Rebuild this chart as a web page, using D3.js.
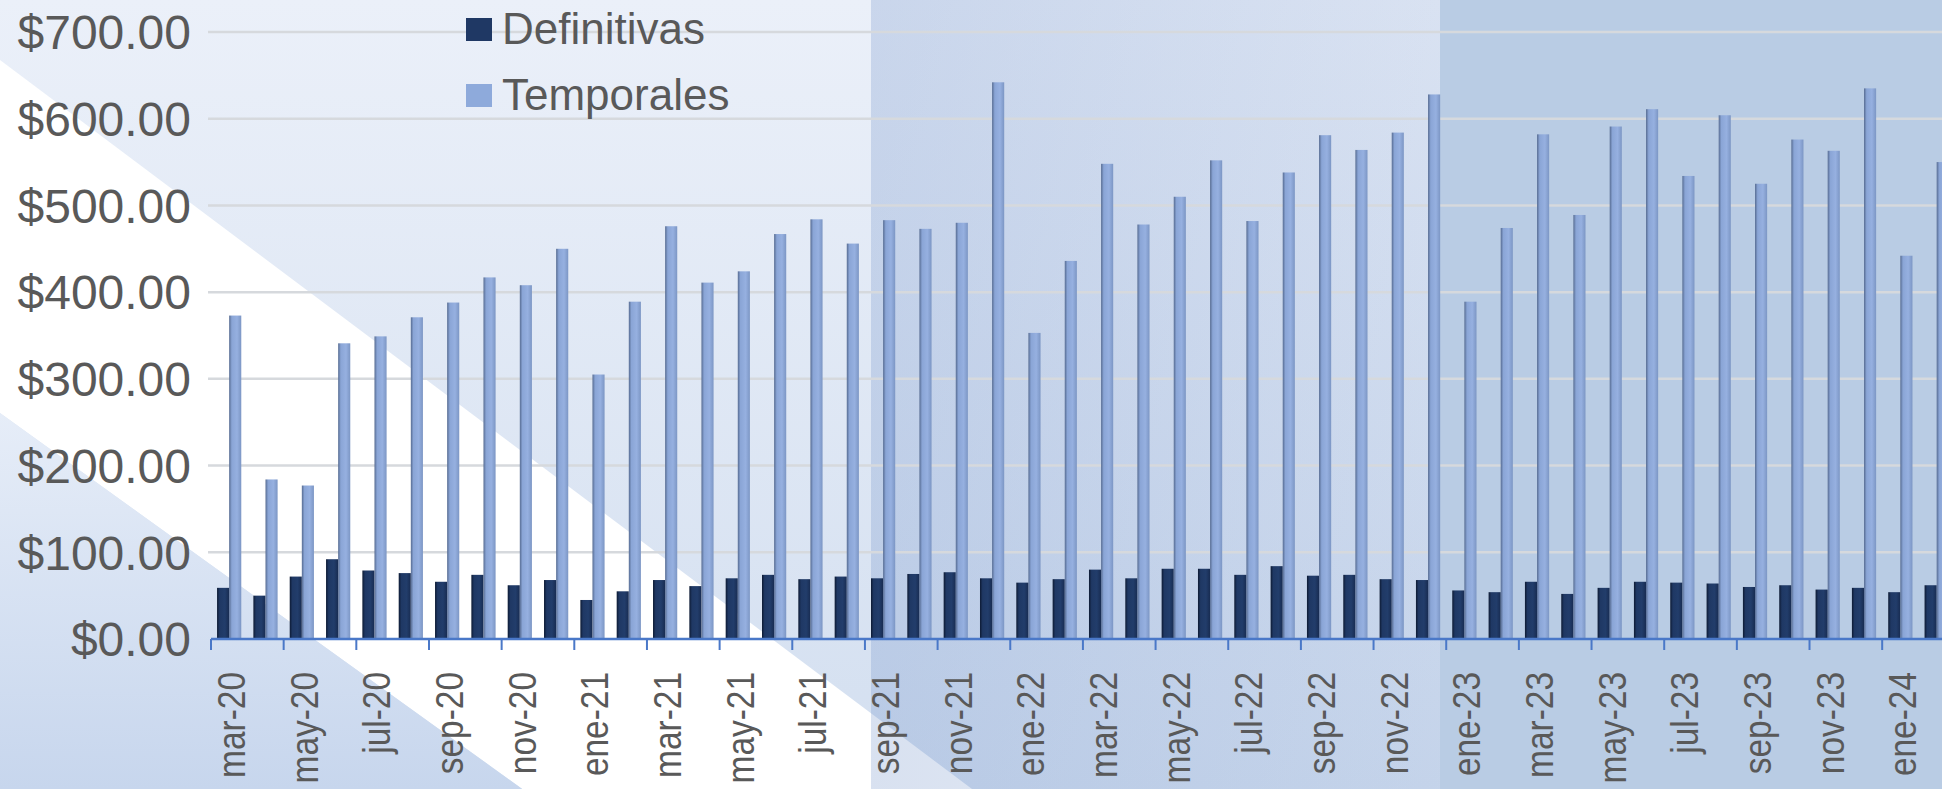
<!DOCTYPE html>
<html>
<head>
<meta charset="utf-8">
<script src="https://cdn.jsdelivr.net/npm/d3@7"></script>
<style>
  html, body { margin: 0; padding: 0; overflow: hidden; }
  svg { display: block; }
  text { font-family: "Liberation Sans", Arial, sans-serif; fill: #595959; }
</style>
</head>
<body>
<svg id="chart" width="1942" height="789"></svg>
<script>
const categories = [
  "mar-20","abr-20","may-20","jun-20","jul-20","ago-20","sep-20","oct-20","nov-20","dic-20",
  "ene-21","feb-21","mar-21","abr-21","may-21","jun-21","jul-21","ago-21","sep-21","oct-21","nov-21","dic-21",
  "ene-22","feb-22","mar-22","abr-22","may-22","jun-22","jul-22","ago-22","sep-22","oct-22","nov-22","dic-22",
  "ene-23","feb-23","mar-23","abr-23","may-23","jun-23","jul-23","ago-23","sep-23","oct-23","nov-23","dic-23",
  "ene-24","feb-24"
];
const definitivas = [
  59,50,72,92,79,76,66,74,62,68,
  45,55,68,61,70,74,69,72,70,75,77,70,
  65,69,80,70,81,81,74,84,73,74,69,68,
  56,54,66,52,59,66,65,64,60,62,57,59,
  54,62
];
const temporales = [
  373,184,177,341,349,371,388,417,408,450,
  305,389,476,411,424,467,484,456,483,473,480,642,
  353,436,548,478,510,552,482,538,581,564,584,628,
  389,474,582,489,591,611,534,604,525,576,563,635,
  442,550
];
const seriesNames = ["Definitivas","Temporales"];
const yTicks = [0,100,200,300,400,500,600,700];

const W = 1942, H = 789;
const svg = d3.select("#chart");
const defs = svg.append("defs");

function vGrad(id, stops) {
  const g = defs.append("linearGradient").attr("id", id).attr("x1",0).attr("y1",0).attr("x2",0).attr("y2",1);
  stops.forEach(s => g.append("stop").attr("offset", s[0]).attr("stop-color", s[1]).attr("stop-opacity", s[2] === undefined ? 1 : s[2]));
}
function hGrad(id, stops) {
  const g = defs.append("linearGradient").attr("id", id).attr("x1",0).attr("y1",0).attr("x2",1).attr("y2",0);
  stops.forEach(s => g.append("stop").attr("offset", s[0]).attr("stop-color", s[1]).attr("stop-opacity", s[2] === undefined ? 1 : s[2]));
}
vGrad("bgBase", [["0%","#ebf0f9"],["100%","#d3dff0"]]);
vGrad("bgLow", [["0%","#e6edf8"],["100%","#c7d6ed"]]);
hGrad("panel2", [["0%","#6a8cc6",0.26],["100%","#6a8cc6",0.14]]);
hGrad("gDef", [["0%","#0d1a33"],["22%","#1f3864"],["65%","#223d6b"],["100%","#182c52"]]);
hGrad("gTemp", [["0%","#566b91"],["22%","#8aa5d6"],["65%","#96b0e0"],["100%","#7c96c4"]]);

// background layers
svg.append("rect").attr("x",0).attr("y",0).attr("width",W).attr("height",H).attr("fill","url(#bgBase)");
const upper = x => 60 + 0.75 * x;
const lower = x => 413 + 0.72 * x;
svg.append("polygon")
  .attr("points", [[0,upper(0)],[W,upper(W)],[W,lower(W)],[0,lower(0)]].map(p=>p.join(",")).join(" "))
  .attr("fill","#ffffff");
svg.append("polygon")
  .attr("points", [[0,lower(0)],[(H-413)/0.72,H],[0,H]].map(p=>p.join(",")).join(" "))
  .attr("fill","url(#bgLow)");
svg.append("rect").attr("x",871).attr("y",0).attr("width",1440-871).attr("height",H).attr("fill","url(#panel2)");
svg.append("rect").attr("x",1440).attr("y",0).attr("width",W-1440).attr("height",H).attr("fill","#b9cce4");

// scales
const band = 36.33;
const x0 = d3.scaleBand().domain(categories).range([211, 211 + band * categories.length]).paddingInner(0).paddingOuter(0);
const x1 = d3.scaleBand().domain(seriesNames).range([0, x0.bandwidth()]).paddingInner(0).paddingOuter(0.5);
const y = d3.scaleLinear().domain([0,700]).range([639,32]);

// gridlines
svg.append("g").selectAll("line").data(yTicks.filter(d => d > 0)).join("line")
  .attr("x1", 208).attr("x2", W)
  .attr("y1", d => y(d)).attr("y2", d => y(d))
  .attr("stroke", "#d6d9dd").attr("stroke-width", 2.5);

// y labels
svg.append("g").selectAll("text").data(yTicks).join("text")
  .attr("x", 191).attr("y", d => y(d)).attr("dy","0.36em")
  .attr("text-anchor","end").attr("font-size", 48)
  .text(d => "$" + d3.format(".2f")(d));

// bars
const rows = categories.map((c,i) => ({c, vals: [definitivas[i], temporales[i]]}));
const gBars = svg.append("g");
gBars.selectAll("g").data(rows).join("g")
  .attr("transform", d => `translate(${x0(d.c)},0)`)
  .selectAll("rect").data(d => d.vals.map((v,j) => ({s: seriesNames[j], v})))
  .join("rect")
  .attr("x", d => x1(d.s)).attr("width", x1.bandwidth())
  .attr("y", d => y(d.v)).attr("height", d => y(0) - y(d.v))
  .attr("fill", d => d.s === "Definitivas" ? "url(#gDef)" : "url(#gTemp)");

// x axis
const axisG = svg.append("g");
axisG.append("line").attr("x1", 211).attr("x2", W).attr("y1", 639).attr("y2", 639)
  .attr("stroke", "#4a78c8").attr("stroke-width", 2.5);
const tickCats = categories.filter((c,i) => i % 2 === 0);
axisG.selectAll("line.tick").data(tickCats).join("line").attr("class","tick")
  .attr("x1", d => x0(d)).attr("x2", d => x0(d))
  .attr("y1", 639).attr("y2", 650)
  .attr("stroke", "#4a78c8").attr("stroke-width", 2);
axisG.selectAll("text").data(tickCats).join("text")
  .attr("transform", d => `translate(${x0(d) + x0.bandwidth()/2},672) rotate(-90) scale(0.88,1)`)
  .attr("text-anchor","end").attr("dy","0.42em").attr("font-size", 38)
  .text(d => d);

// legend
const leg = svg.append("g");
const legItems = [{n:"Definitivas", c:"#1f3864", y:18}, {n:"Temporales", c:"#8eaadb", y:84}];
leg.selectAll("rect").data(legItems).join("rect")
  .attr("x", 466).attr("y", d => d.y).attr("width", 26).attr("height", 23).attr("fill", d => d.c);
leg.selectAll("text").data(legItems).join("text")
  .attr("x", 502).attr("y", d => d.y + 26).attr("font-size", 44)
  .text(d => d.n);
</script>
</body>
</html>
